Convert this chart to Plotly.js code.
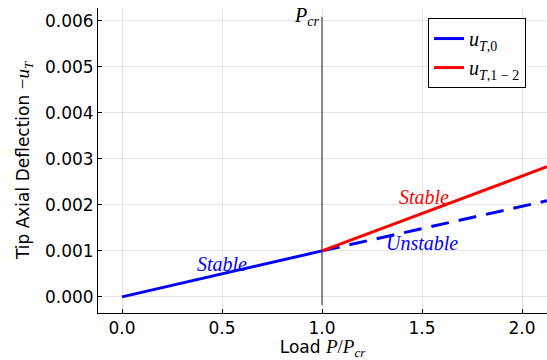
<!DOCTYPE html>
<html><head><meta charset="utf-8">
<script src="https://cdn.plot.ly/plotly-3.0.1.min.js"></script>
<style>html,body{margin:0;padding:0;background:#fff}#plot{width:547px;height:360px}</style>
</head><body><div id="plot"></div>
<script>
const stableLoad = [0.0, 1.0];
const stableDefl = [0.0, 0.001];
const u0PostLoad = [1.0, 2.125];
const u0PostDefl = [0.001, 0.00209];
const u12Load = [1.0, 2.125];
const u12Defl = [0.001, 0.00283];
const pcrLine = {x: [1.0, 1.0], y: [-0.000174, 0.00609]};
const xTicks = [0.0, 0.5, 1.0, 1.5, 2.0];
const xTickText = ["0.0", "0.5", "1.0", "1.5", "2.0"];
const yTicks = [0, 0.001, 0.002, 0.003, 0.004, 0.005, 0.006];
const yTickText = ["0.000", "0.001", "0.002", "0.003", "0.004", "0.005", "0.006"];

const M = s => '<span style="font-family:\'Liberation Serif\';font-style:italic">' + s + '</span>';
const MR = s => '<span style="font-family:\'Liberation Serif\'">' + s + '</span>';
const MS = (s, px) => '<span style="font-family:\'Liberation Serif\';font-style:italic;font-size:' + px + 'px">' + s + '</span>';
const MSR = (s, px) => '<span style="font-family:\'Liberation Serif\';font-size:' + px + 'px">' + s + '</span>';

const traces = [
  {x: pcrLine.x, y: pcrLine.y, mode: 'lines', line: {color: '#444', width: 1.2}, showlegend: false, hoverinfo: 'skip'},
  {x: stableLoad, y: stableDefl, mode: 'lines', line: {color: 'rgb(0,0,255)', width: 3}, name: M('u') + '<sub>' + M('T') + MR(',0') + '</sub>'},
  {x: u0PostLoad, y: u0PostDefl, mode: 'lines', line: {color: 'rgb(0,0,255)', width: 3, dash: '18px,10px'}, showlegend: false},
  {x: u12Load, y: u12Defl, mode: 'lines', line: {color: 'rgb(255,0,0)', width: 3}, name: M('u') + '<sub>' + M('T') + MR(',1 − 2') + '</sub>'}
];

const layout = {
  width: 547, height: 360,
  margin: {l: 98, r: 0, t: 8, b: 47},
  paper_bgcolor: '#fff', plot_bgcolor: '#fff',
  font: {family: 'DejaVu Sans', size: 17, color: '#000'},
  showlegend: true,
  legend: {x: 0.735, y: 0.967, xanchor: 'left', yanchor: 'top', bordercolor: '#000', borderwidth: 1, bgcolor: '#fff',
    font: {size: 20}, tracegroupgap: 0, itemwidth: 30},
  xaxis: {range: [-0.12, 2.125], tickvals: xTicks, ticktext: xTickText, showgrid: true, gridcolor: 'rgba(0,0,0,0.1)',
    zeroline: false, showline: true, linecolor: '#000', linewidth: 1, ticks: 'inside', ticklen: 4, tickcolor: '#000',
    tickfont: {size: 17},
    title: {text: 'Load ' + MS('P', 19) + MSR('/', 19) + MS('P', 19) + '<sub>' + MS('cr', 13) + '</sub>', font: {size: 17}, standoff: 2}, mirror: false},
  yaxis: {range: [-0.00035, 0.00628], tickvals: yTicks, ticktext: yTickText, showgrid: true, gridcolor: 'rgba(0,0,0,0.1)',
    zeroline: false, showline: true, linecolor: '#000', linewidth: 1, ticks: 'inside', ticklen: 4, tickcolor: '#000',
    tickfont: {size: 17},
    title: {text: 'Tip Axial Deflection ' + MSR('−', 19) + MS('u', 19) + '<sub>' + MS('T', 13) + '</sub>', font: {size: 17}, standoff: 10}},
  annotations: [
    {x: 1.0, y: 0.00609, xref: 'x', yref: 'y', text: M('P') + '<sub>' + M('cr') + '</sub>', showarrow: false, xanchor: 'right', yanchor: 'middle', font: {size: 20}, xshift: -1},
    {x: 0.5, y: 0.00072, xref: 'x', yref: 'y', text: M('Stable'), showarrow: false, font: {size: 20, color: 'rgb(0,0,255)'}},
    {x: 1.51, y: 0.00218, xref: 'x', yref: 'y', text: M('Stable'), showarrow: false, font: {size: 20, color: 'rgb(255,0,0)'}},
    {x: 1.5, y: 0.00118, xref: 'x', yref: 'y', text: M('Unstable'), showarrow: false, font: {size: 20, color: 'rgb(0,0,255)'}}
  ]
};
Plotly.newPlot('plot', traces, layout, {displayModeBar: false, staticPlot: true});
</script></body></html>
